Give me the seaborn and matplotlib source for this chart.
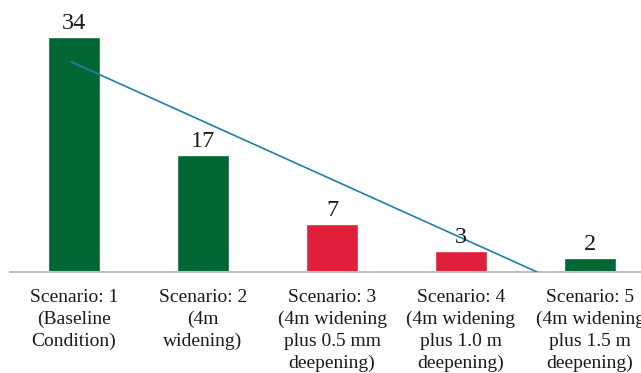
import matplotlib
matplotlib.use('Agg')
import matplotlib.pyplot as plt
import seaborn as sns
import pandas as pd

# Chart data
scenarios = ['Scenario: 1\n(Baseline\nCondition)',
             'Scenario: 2\n(4m\nwidening)',
             'Scenario: 3\n(4m widening\nplus 0.5 mm\ndeepening)',
             'Scenario: 4\n(4m widening\nplus 1.0 m\ndeepening)',
             'Scenario: 5\n(4m widening\nplus 1.5 m\ndeepening)']
values = [34, 17, 7, 3, 2]
bar_colors = ['#006633', '#006633', '#E0203A', '#E0203A', '#006633']

# Trend line as drawn on the original (start at first bar, ends at zero)
trend_x = [-0.02, 3.59]
trend_y = [30.4, 0]

sns.set_style('white')
plt.rcParams['font.family'] = ['Liberation Serif', 'DejaVu Serif']

df = pd.DataFrame({'Scenario': scenarios, 'Value': values})

fig = plt.figure(figsize=(6.41, 3.73), dpi=100)
# axes deliberately run past the right edge, like the cropped original
ax = fig.add_axes([9.5 / 641, 101 / 373, 645 / 641, 248.8 / 373])

sns.barplot(data=df, x='Scenario', y='Value', hue='Scenario',
            palette=bar_colors, legend=False, width=0.403, ax=ax,
            saturation=1)

ax.plot(trend_x, trend_y, color='#1F7FA6', linewidth=1.2, zorder=3)

for i, v in enumerate(values):
    ax.text(i, v + 1.15, str(v), ha='center', va='baseline', fontsize=17.5,
            color='#1a1a1a')

ax.set_xlim(-0.5, 4.5)
ax.set_ylim(0, 36)
ax.set_xlabel('')
ax.set_ylabel('')
ax.set_yticks([])
ax.tick_params(axis='x', length=0, pad=12, labelsize=14, colors='#1a1a1a')
for lbl in ax.get_xticklabels():
    lbl.set_linespacing(1.38)
for side in ['top', 'right', 'left']:
    ax.spines[side].set_visible(False)
ax.spines['bottom'].set_color('#BFBFBF')
ax.spines['bottom'].set_linewidth(1.5)

fig.savefig('out.png', dpi=100)
